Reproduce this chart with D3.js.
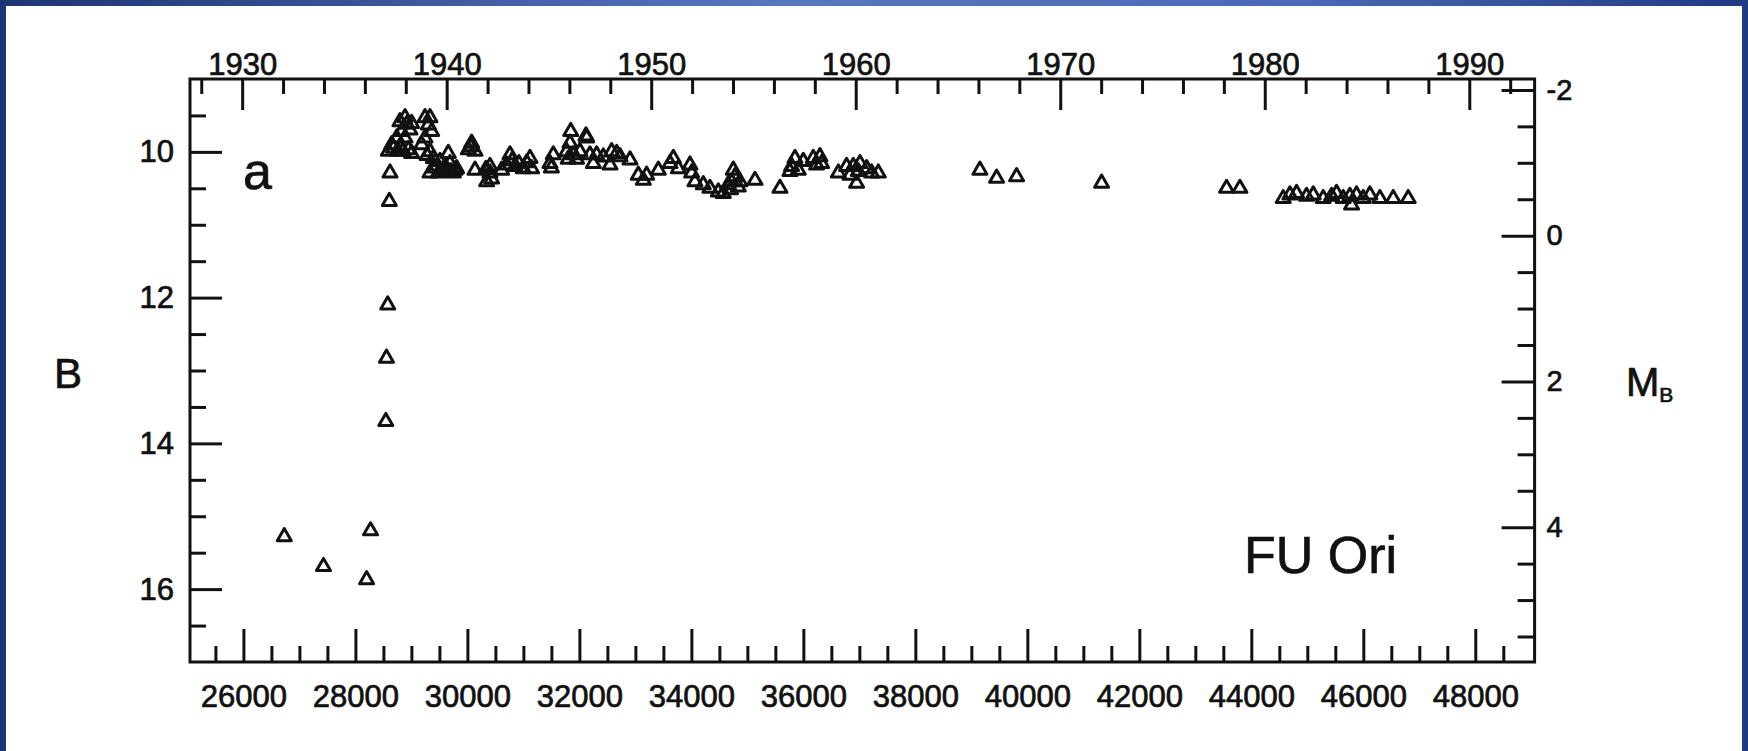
<!DOCTYPE html>
<html>
<head>
<meta charset="utf-8">
<script src="https://cdn.jsdelivr.net/npm/d3@7"></script>
<style>
  html, body { margin: 0; padding: 0; background: #fff; }
  svg { display: block; }
  text { font-family: "Liberation Sans", Arial, Helvetica, sans-serif; fill: #111; stroke: #111; stroke-width: 0.7px; }
</style>
</head>
<body>
<svg id="chart" width="1748" height="751"></svg>
<script>
const width = 1748;
const height = 751;

// Julian date - 2400000
const jd = [
  26730, 27430, 28200, 28270, 28543, 28555, 28577, 28606, 28618,
  28588, 28648, 28680, 28737, 28760, 28796, 28796, 28826, 28850, 28886, 28886, 28920, 28945, 28975, 29005, 29005,
  29183, 29243, 29243, 29280, 29302, 29332, 29332, 29332, 29362, 29392, 29420, 29481, 29511, 29560, 29600, 29630, 29659, 29689, 29700, 29749, 29780, 29808,
  30017, 30060, 30076, 30136, 30136, 30330, 30344, 30403, 30403, 30433,
  30612, 30701, 30761, 30800, 30850, 30920, 30999, 31060, 31118, 31147,
  31475, 31500, 31534, 31772, 31800, 31832, 31846, 31891, 31950, 32010, 32118, 32130, 32189, 32249, 32308, 32427,
  32547, 32576, 32666, 32725, 32904, 33052, 33142, 33201, 33410, 33618, 33678, 33767, 33975, 34005, 34064,
  34213, 34332, 34481, 34570, 34659, 34700, 34719, 34749, 34778, 34838, 34868, 35136, 35582,
  35760, 35790, 35850, 35909, 35999, 36177, 36237, 36296, 36326, 36624, 36772, 36832, 36892, 36951, 36981, 37011, 37130, 37219, 37338,
  39153, 39451, 39808, 41326, 43558, 43796,
  44570, 44689, 44808, 44986, 45106, 45284, 45433, 45522, 45641, 45760, 45790, 45879, 45998, 46117, 46296, 46534, 46802
];

// B magnitude
const bmag = [
  15.28, 15.69, 15.87, 15.20, 13.70, 12.83, 12.10, 10.68, 10.29,
  9.99, 9.90, 9.95, 9.81, 9.99, 9.93, 9.585, 9.72, 9.99, 9.53, 9.81, 9.62, 9.97, 9.70, 9.61, 10.02,
  9.90, 9.53, 9.81, 10.05, 9.63, 9.53, 9.997, 10.29, 9.72, 10.09, 10.22, 10.29, 10.13, 10.25, 10.20, 10.27, 10.02, 10.16, 10.27, 10.29, 10.25, 10.23,
  9.97, 9.93, 9.88, 9.99, 10.25, 10.24, 10.41, 10.20, 10.29, 10.37,
  10.25, 10.18, 10.04, 10.12, 10.20, 10.16, 10.23, 10.15, 10.09, 10.23,
  10.16, 10.22, 10.04, 9.997, 10.10, 9.88, 9.72, 10.04, 10.10, 9.997, 9.78, 9.81, 10.04, 10.16, 10.04, 10.07,
  10.18, 9.997, 10.02, 10.065, 10.11, 10.32, 10.39, 10.32, 10.25, 10.16, 10.09, 10.23, 10.18, 10.29, 10.41,
  10.45, 10.50, 10.55, 10.57, 10.45, 10.52, 10.41, 10.25, 10.34, 10.48, 10.41, 10.39, 10.50,
  10.27, 10.20, 10.09, 10.25, 10.13, 10.09, 10.18, 10.065, 10.16, 10.29, 10.20, 10.32, 10.20, 10.43, 10.27, 10.16, 10.23, 10.29, 10.29,
  10.25, 10.36, 10.34, 10.43, 10.50, 10.50,
  10.64, 10.59, 10.57, 10.61, 10.59, 10.64, 10.61, 10.57, 10.64, 10.61, 10.73, 10.59, 10.64, 10.59, 10.64, 10.64, 10.64
];

const xMajor = [26000, 28000, 30000, 32000, 34000, 36000, 38000, 40000, 42000, 44000, 46000, 48000];
const yearMajor = [1930, 1940, 1950, 1960, 1970, 1980, 1990];
const bMajor = [10, 12, 14, 16];
const mbMajor = [-2, 0, 2, 4];

const jdDomain = [25046, 49059];
const bDomain = [9, 17];
const distOffset = 11.15;           // B - M_B
const jdJan1930 = 25977.5;

const plot = { left: 190, right: 1534.6, top: 79, bottom: 662 };

const svg = d3.select("#chart");

// blue frame
const grad = svg.append("defs").append("linearGradient").attr("id", "frame")
  .attr("x1", "0").attr("x2", "1").attr("y1", "0").attr("y2", "0");
grad.append("stop").attr("offset", "0").attr("stop-color", "#1d3475");
grad.append("stop").attr("offset", "0.45").attr("stop-color", "#5877c2");
grad.append("stop").attr("offset", "0.75").attr("stop-color", "#4a68b6");
grad.append("stop").attr("offset", "1").attr("stop-color", "#1f3a82");
svg.append("rect").attr("width", width).attr("height", height).attr("fill", "url(#frame)");
svg.append("rect").attr("x", 6).attr("y", 6).attr("width", 1736).attr("height", height - 6).attr("fill", "#fff");

const x = d3.scaleLinear().domain(jdDomain).range([plot.left, plot.right]);
const y = d3.scaleLinear().domain(bDomain).range([plot.top, plot.bottom]);
const yr = j => 1930 + (j - jdJan1930) / 365.25;
const xYear = d3.scaleLinear().domain(jdDomain.map(yr)).range([plot.left, plot.right]);
const yM = d3.scaleLinear().domain(bDomain.map(b => b - distOffset)).range([plot.top, plot.bottom]);

function styleAxis(g) {
  g.select(".domain").remove();
  g.selectAll("line").attr("stroke", "#111").attr("stroke-width", 3);
  g.selectAll("text").attr("font-size", 31).attr("fill", "#111");
}

// bottom axis (JD)
svg.append("g").attr("transform", `translate(0,${plot.bottom})`)
  .call(d3.axisBottom(x).tickValues(d3.range(25500, 49000, 500).filter(v => v % 2000)).tickSize(-16).tickFormat(""))
  .call(styleAxis);
svg.append("g").attr("transform", `translate(0,${plot.bottom})`)
  .call(d3.axisBottom(x).tickValues(xMajor).tickSize(-33).tickPadding(23).tickFormat(d3.format("d")))
  .call(styleAxis);

// top axis (years)
svg.append("g").attr("transform", `translate(0,${plot.top})`)
  .call(d3.axisTop(xYear).tickValues(d3.range(1928, 1993, 2).filter(v => v % 10)).tickSize(-15).tickFormat(""))
  .call(styleAxis);
svg.append("g").attr("transform", `translate(0,${plot.top})`)
  .call(d3.axisTop(xYear).tickValues(yearMajor).tickSize(-31).tickPadding(4).tickFormat(d3.format("d")))
  .call(styleAxis);

// left axis (B)
svg.append("g").attr("transform", `translate(${plot.left},0)`)
  .call(d3.axisLeft(y).tickValues(d3.range(9.5, 17, 0.5).filter(v => v % 2)).tickSize(-16).tickFormat(""))
  .call(styleAxis);
svg.append("g").attr("transform", `translate(${plot.left},0)`)
  .call(d3.axisLeft(y).tickValues(bMajor).tickSize(-32).tickPadding(16).tickFormat(d3.format("d")))
  .call(styleAxis);

// right axis (M_B)
svg.append("g").attr("transform", `translate(${plot.right},0)`)
  .call(d3.axisRight(yM).tickValues(d3.range(-1.5, 6, 0.5).filter(v => v % 2)).tickSize(-17).tickFormat(""))
  .call(styleAxis);
svg.append("g").attr("transform", `translate(${plot.right},0)`)
  .call(d3.axisRight(yM).tickValues(mbMajor).tickSize(-33).tickPadding(12).tickFormat(d => d < 0 ? "-" + Math.abs(d) : d))
  .call(g => {
    styleAxis(g);
    g.selectAll("text").attr("font-size", 29);
  });

// frame
svg.append("rect")
  .attr("x", plot.left).attr("y", plot.top)
  .attr("width", plot.right - plot.left).attr("height", plot.bottom - plot.top)
  .attr("fill", "none").attr("stroke", "#111").attr("stroke-width", 3);

// points
const tri = d3.symbol(d3.symbolTriangle).size(85);
svg.append("g").selectAll("path")
  .data(d3.zip(jd, bmag))
  .join("path")
  .attr("d", tri)
  .attr("transform", d => `translate(${x(d[0])},${y(d[1])})`)
  .attr("fill", "none")
  .attr("stroke", "#111")
  .attr("stroke-width", 3)
  .attr("stroke-linejoin", "round");

// labels
svg.append("text").attr("x", 54).attr("y", 388).attr("font-size", 42).text("B");
const mb = svg.append("text").attr("x", 1626).attr("y", 396).attr("font-size", 40);
mb.append("tspan").text("M");
mb.append("tspan").attr("font-size", 21).attr("dy", 6).text("B");
svg.append("text").attr("x", 243).attr("y", 189).attr("font-size", 52).text("a");
svg.append("text").attr("x", 1244).attr("y", 573).attr("font-size", 52).text("FU Ori");
</script>
</body>
</html>
